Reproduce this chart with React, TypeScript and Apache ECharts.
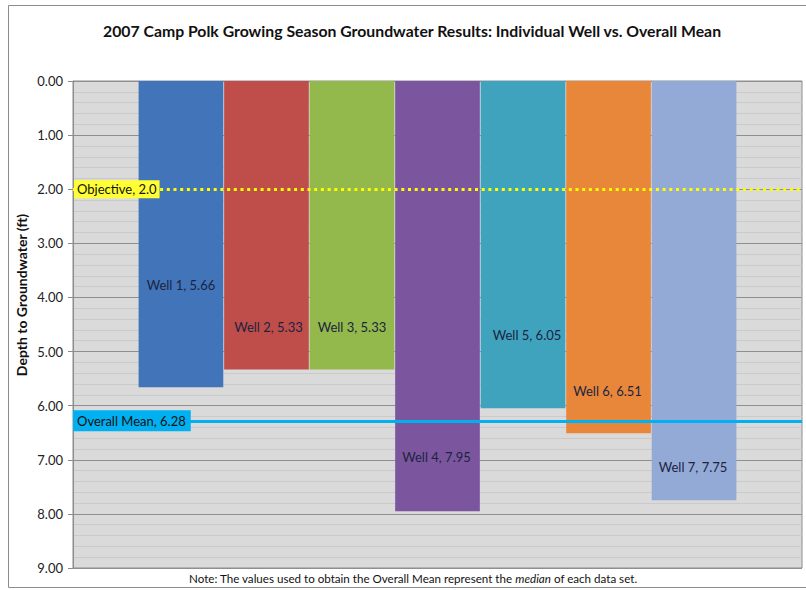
import React, { useEffect, useRef } from "react";
import * as echarts from "echarts";

const wellNames = ["Well 1", "Well 2", "Well 3", "Well 4", "Well 5", "Well 6", "Well 7"];
const wellDepths = [5.66, 5.33, 5.33, 7.95, 6.05, 6.51, 7.75];
const wellColors = ["#4174B9", "#BF4D4A", "#93B84B", "#7B569E", "#3FA3BE", "#E8873A", "#94AAD6"];
const labelOffsets: number[][] = [[0, 51], [2, 102], [0, 102], [-1, 161], [4, 90], [-1, 134], [-1, 176]];
const objectiveValue = 2.0;
const overallMean = 6.28;
const yTicks = { min: 0, max: 9, interval: 1 };

export default function App() {
  const ref = useRef<HTMLDivElement>(null);
  useEffect(() => {
    if (!ref.current) return;
    const chart = echarts.init(ref.current, null, { renderer: "svg" });
    const font = "Lato, 'Open Sans', sans-serif";
    const series: any[] = wellNames.map((name, i) => ({
      type: "bar",
      name,
      data: [wellDepths[i]],
      barGap: "1%",
      barCategoryGap: "18%",
      itemStyle: { color: wellColors[i] },
      label: {
        show: true,
        position: "inside",
        offset: labelOffsets[i],
        formatter: () => `${name}, ${wellDepths[i].toFixed(2)}`,
        color: "#1B2440",
        fontSize: 13,
        fontFamily: font,
      },
      z: 2,
    }));
    series.push({
      type: "line",
      data: [],
      z: 5,
      markLine: {
        silent: true,
        symbol: "none",
        data: [
          {
            yAxis: objectiveValue,
            lineStyle: { color: "#FFFF00", width: 3, type: [3, 3.7], cap: "butt" },
            label: {
              show: true,
              position: "insideStart",
              distance: 1,
              formatter: `Objective, ${objectiveValue.toFixed(1)}`,
              backgroundColor: "#FFFF33",
              color: "#111",
              padding: [3, 3, 2, 3],
              fontSize: 13,
              fontFamily: font,
            },
          },
          {
            yAxis: overallMean,
            lineStyle: { color: "#00B0F0", width: 3, type: "solid" },
            label: {
              show: true,
              position: "insideStart",
              distance: 0,
              formatter: `Overall Mean, ${overallMean.toFixed(2)}`,
              backgroundColor: "#00B0F0",
              color: "#111",
              padding: [4, 5, 4, 4],
              fontSize: 13,
              fontFamily: font,
            },
          },
        ],
      },
    });
    chart.setOption({
      animation: false,
      backgroundColor: "#fff",
      title: {
        text: "2007 Camp Polk Growing Season Groundwater Results: Individual Well vs. Overall Mean",
        left: 407,
        top: 17,
        textAlign: "center",
        textStyle: { fontSize: 15.8, fontWeight: "bold", color: "#111", fontFamily: font },
      },
      grid: {
        left: 73,
        right: 4,
        top: 81,
        bottom: 22,
        show: true,
        backgroundColor: "#DADADA",
        borderColor: "#8C8C8C",
        borderWidth: 1,
      },
      xAxis: {
        type: "category",
        data: [""],
        show: false,
      },
      yAxis: {
        type: "value",
        inverse: true,
        min: yTicks.min,
        max: yTicks.max,
        interval: yTicks.interval,
        axisLine: { show: true, lineStyle: { color: "#8C8C8C" } },
        axisTick: { show: true, length: 5, lineStyle: { color: "#8C8C8C" } },
        axisLabel: {
          formatter: (v: number) => v.toFixed(2),
          fontSize: 13,
          color: "#222",
          fontFamily: font,
          margin: 10,
        },
        splitLine: { show: true, lineStyle: { color: "#8F8F8F", width: 1 } },
        minorTick: { show: false, splitNumber: 5 },
        minorSplitLine: { show: true, lineStyle: { color: "#CACACA", width: 1 } },
      },
      graphic: [
        {
          type: "rect",
          shape: { x: 8.5, y: 5.5, width: 800, height: 582 },
          style: { fill: "none", stroke: "#8C8C8C", lineWidth: 1 },
          z: -1,
          silent: true,
        },
        {
          type: "text",
          x: 21,
          y: 295,
          rotation: Math.PI / 2,
          style: {
            text: "Depth to Groundwater (ft)",
            fontSize: 14,
            fontWeight: "bold",
            fill: "#111",
            fontFamily: font,
            align: "center",
            verticalAlign: "middle",
          },
        },
        {
          type: "text",
          x: 413,
          y: 578,
          style: {
            text: "{n|Note: The values used to obtain the Overall Mean represent the }{i|median}{n| of each data set.}",
            align: "center",
            verticalAlign: "middle",
            rich: {
              n: { fontSize: 11.6, fill: "#111", fontFamily: font },
              i: { fontSize: 11.6, fill: "#111", fontStyle: "italic", fontFamily: font },
            },
          },
        },
      ],
      series,
    });
    return () => chart.dispose();
  }, []);
  return (
    <div
      ref={ref}
      style={{ position: "fixed", left: 0, top: 0, width: 806, height: 590 }}
    />
  );
}
